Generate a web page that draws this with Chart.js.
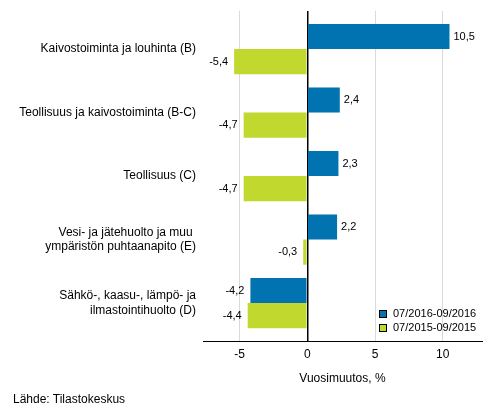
<!DOCTYPE html>
<html lang="fi">
<head>
    <meta charset="UTF-8">
    <title>Vuosimuutos</title>
    <script src="https://cdn.jsdelivr.net/npm/chart.js"></script>
    <style>
        body { margin: 0; background: #fff; font-family: Arial, "Liberation Sans", sans-serif; }
        .wrap { position: relative; width: 493px; height: 416px; }
        .source { position: absolute; left: 13px; top: 392px; font-size: 12px; color: #000; }
    </style>
</head>
<body>
    <div class="wrap">
        <canvas id="chart" width="493" height="416"></canvas>
        <div class="source">Lähde: Tilastokeskus</div>
    </div>

    <script>
        // Data
        const categories = [
            'Kaivostoiminta ja louhinta (B)',
            'Teollisuus ja kaivostoiminta (B-C)',
            'Teollisuus (C)',
            ['Vesi- ja jätehuolto ja muu ', 'ympäristön puhtaanapito (E)'],
            ['Sähkö-, kaasu-, lämpö- ja', 'ilmastointihuolto (D)']
        ];
        const seriesNames = ['07/2016-09/2016', '07/2015-09/2015'];
        const values2016 = [10.5, 2.4, 2.3, 2.2, -4.2];
        const values2015 = [-5.4, -4.7, -4.7, -0.3, -4.4];
        const xTicks = [-5, 0, 5, 10];

        const FONT = 'Arial, "Liberation Sans", sans-serif';

        // value labels at the end of each bar, Finnish decimal comma
        const valueLabels = {
            id: 'valueLabels',
            afterDatasetsDraw(chart) {
                const ctx = chart.ctx;
                ctx.save();
                ctx.font = '11px ' + FONT;
                ctx.fillStyle = '#000';
                ctx.textBaseline = 'middle';
                chart.data.datasets.forEach((ds, i) => {
                    chart.getDatasetMeta(i).data.forEach((bar, j) => {
                        const v = ds.data[j].x;
                        const txt = String(v).replace('.', ',');
                        if (v >= 0) {
                            ctx.textAlign = 'left';
                            ctx.fillText(txt, bar.x + 4, bar.y);
                        } else {
                            ctx.textAlign = 'right';
                            ctx.fillText(txt, bar.x - 6, bar.y);
                        }
                    });
                });
                ctx.restore();
            }
        };

        // small legend inside the plot, bottom right
        const boxLegend = {
            id: 'boxLegend',
            afterDraw(chart) {
                const ctx = chart.ctx;
                ctx.save();
                ctx.font = '11px ' + FONT;
                ctx.textBaseline = 'middle';
                ctx.textAlign = 'left';
                chart.data.datasets.forEach((ds, i) => {
                    const x = 379, y = 310 + i * 14;
                    ctx.fillStyle = ds.backgroundColor;
                    ctx.fillRect(x, y, 7, 7);
                    ctx.strokeStyle = '#000';
                    ctx.lineWidth = 1;
                    ctx.strokeRect(x + 0.5, y + 0.5, 7, 7);
                    ctx.fillStyle = '#000';
                    ctx.fillText(ds.label, x + 14, y + 4);
                });
                ctx.restore();
            }
        };

        const ctx = document.getElementById('chart').getContext('2d');
        new Chart(ctx, {
            type: 'bar',
            data: {
                datasets: [
                    {
                        label: seriesNames[0],
                        data: values2016.map((v, i) => ({ x: v, y: i })),
                        backgroundColor: '#0073b0'
                    },
                    {
                        label: seriesNames[1],
                        data: values2015.map((v, i) => ({ x: v, y: i })),
                        backgroundColor: '#c1d82f'
                    }
                ]
            },
            options: {
                indexAxis: 'y',
                responsive: false,
                animation: false,
                categoryPercentage: 0.79,
                barPercentage: 1,
                layout: { padding: { top: 11, right: 11, left: 0, bottom: 30 } },
                plugins: {
                    legend: { display: false },
                    tooltip: { enabled: false }
                },
                scales: {
                    x: {
                        type: 'linear',
                        min: -7.7,
                        max: 12.9,
                        afterBuildTicks: (scale) => { scale.ticks = xTicks.map(v => ({ value: v })); },
                        grid: {
                            drawTicks: false,
                            color: (c) => c.tick && c.tick.value === 0 ? '#000' : '#d9d9d9',
                            lineWidth: (c) => c.tick && c.tick.value === 0 ? 1.5 : 1
                        },
                        border: { display: true, color: '#000', width: 1 },
                        ticks: {
                            padding: 6,
                            color: '#000',
                            font: { family: FONT, size: 12 }
                        },
                        title: {
                            display: true,
                            text: 'Vuosimuutos, %',
                            color: '#000',
                            font: { family: FONT, size: 12 },
                            padding: { top: 4, bottom: 0 }
                        }
                    },
                    y: {
                        type: 'linear',
                        reverse: true,
                        offset: false,
                        min: -0.6,
                        max: 4.6,
                        afterBuildTicks: (scale) => { scale.ticks = categories.map((c, i) => ({ value: i })); },
                        afterFit: (scale) => {
                            scale.width = 203;
                            scale.paddingTop = 0;
                            scale.paddingBottom = 0;
                        },
                        grid: { display: false, drawTicks: false, offset: false },
                        border: { display: false },
                        ticks: {
                            padding: 7,
                            color: '#000',
                            font: { family: FONT, size: 12 },
                            callback: (v) => categories[v]
                        }
                    }
                }
            },
            plugins: [valueLabels, boxLegend]
        });
    </script>
</body>
</html>
